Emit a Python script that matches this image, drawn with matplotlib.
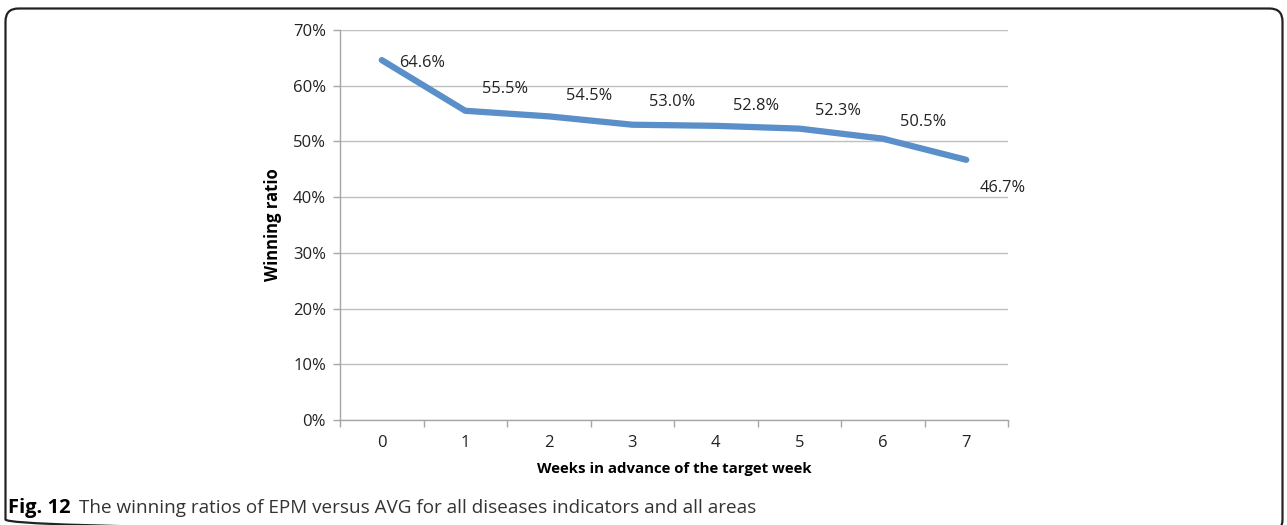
import matplotlib
matplotlib.use("Agg")
import matplotlib.pyplot as plt
from matplotlib.patches import FancyBboxPatch
import numpy as np

weeks = ["0", "1", "2", "3", "4", "5", "6", "7"]
ratios = [64.6, 55.5, 54.5, 53.0, 52.8, 52.3, 50.5, 46.7]
yticks = [0, 10, 20, 30, 40, 50, 60, 70]

# label offsets in pixels (style)
label_offsets = [(17, -3), (17, 22), (17, 20), (17, 23), (17, 20), (16, 18), (17, 17), (13, -28)]

W, H = 1287, 525
fig = plt.figure(figsize=(W / 100, H / 100), dpi=100)
font = "Open Sans"

# frame
bg = fig.add_axes([0, 0, 1, 1])
bg.set_xlim(0, W)
bg.set_ylim(H, 0)
bg.axis("off")
bg.add_patch(FancyBboxPatch((5.5, 8.5), 1277, 524, boxstyle="round,pad=0,rounding_size=13",
                            fill=False, lw=1.6, ec="#222222"))

ax = fig.add_axes([340 / W, 1 - 420 / H, 668 / W, 390 / H])
x = np.arange(len(weeks))
ax.plot(x, ratios, color="#5a8fca", lw=4.5, solid_capstyle="round", solid_joinstyle="round", zorder=3)
ax.set_xlim(-0.5, len(weeks) - 0.5)
ax.set_ylim(0, 70)
ax.set_yticks(yticks)
ax.set_yticklabels([f"{v}%" for v in yticks], fontsize=12, family=font, color="#222222")
ax.set_xticks(x)
ax.set_xticklabels(weeks, fontsize=12, family=font, color="#222222")
ax.set_xticks(np.arange(-0.5, len(weeks)), minor=True)
ax.tick_params(axis="x", which="major", length=0, pad=11)
ax.tick_params(axis="x", which="minor", length=5, color="#a6a6a6", width=1)
ax.tick_params(axis="y", length=5, color="#a6a6a6", width=1, pad=5)
ax.grid(axis="y", color="#bfbfbf", lw=1)
ax.set_axisbelow(True)
for s in ["top", "right"]:
    ax.spines[s].set_visible(False)
for s in ["left", "bottom"]:
    ax.spines[s].set_color("#a6a6a6")
    ax.spines[s].set_linewidth(1)

for xi, v, (dx, dy) in zip(x, ratios, label_offsets):
    ax.annotate(f"{v:.1f}%", (xi, v), xytext=(dx * 0.72, dy * 0.72), textcoords="offset points",
                ha="left", va="center", fontsize=11.8, family=font, color="#222222")

ax.set_ylabel("Winning ratio", fontsize=12, family=font, fontweight="bold", labelpad=8)
ax.set_xlabel("Weeks in advance of the target week", fontsize=10.8, family=font, fontweight="bold", labelpad=8)

fig.text(8 / W, 1 - 508 / H, "Fig. 12", fontsize=14.5, family=font, fontweight="bold", va="center", ha="left")
fig.text(79 / W, 1 - 508 / H, "The winning ratios of EPM versus AVG for all diseases indicators and all areas",
         fontsize=13.6, family=font, va="center", ha="left", color="#333333")

fig.savefig("out.png", dpi=100)
